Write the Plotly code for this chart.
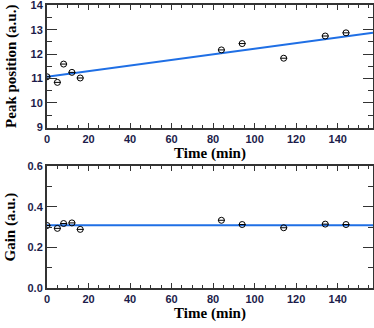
import plotly.graph_objects as go

# measurement times (min)
time_min = [0, 5, 8, 12, 16, 84, 94, 114, 134, 144]
peak_pos = [11.07, 10.84, 11.59, 11.25, 11.02, 12.17, 12.43, 11.83, 12.74, 12.87]
gain = [0.308, 0.294, 0.318, 0.321, 0.289, 0.334, 0.313, 0.297, 0.315, 0.313]

# fitted lines (end points)
fit_x = [0, 157]
peak_fit = [11.07, 12.87]
gain_fit = [0.31, 0.31]

# tick labels
peak_ticks = [9, 10, 11, 12, 13, 14]
gain_ticks = [0.0, 0.2, 0.4, 0.6]

blue = '#1f6fe5'
tick_font = dict(family='Liberation Sans', size=11, color='#1c1c4a', weight='bold')
title_font = dict(family='Liberation Serif', size=15, color='black', weight='bold')

fig = go.Figure()

for ax, y, fy in [('', peak_pos, peak_fit), ('2', gain, gain_fit)]:
    fig.add_trace(go.Scatter(x=fit_x, y=fy, mode='lines', xaxis='x' + ax, yaxis='y' + ax,
                             line=dict(color=blue, width=2), showlegend=False))
    fig.add_trace(go.Scatter(x=time_min, y=y, mode='markers', xaxis='x' + ax, yaxis='y' + ax,
                             marker=dict(symbol='circle-open', size=6, color='black',
                                         line=dict(width=1)), showlegend=False))
    fig.add_trace(go.Scatter(x=time_min, y=y, mode='markers', xaxis='x' + ax, yaxis='y' + ax,
                             marker=dict(symbol='line-ew-open', size=5, color='black',
                                         line=dict(width=1)), showlegend=False))

# title sits a little right of centre in the original
xtitle = '\u00a0' * 7 + 'Time (min)'

xcommon = dict(range=[0, 157], dtick=20, ticks='inside', ticklen=5, tickcolor='#333',
               minor=dict(dtick=5, ticklen=3, ticks='inside', tickcolor='#333'),
               showline=True, linecolor='#333', linewidth=2, mirror='ticks',
               showgrid=False, zeroline=False, tickfont=tick_font, automargin=False,
               ticklabeloverflow='allow',
               title=dict(text=xtitle, font=title_font, standoff=1))
ycommon = dict(ticks='inside', ticklen=10, tickcolor='#333', automargin=False,
               showline=True, linecolor='#333', linewidth=2, mirror='ticks',
               showgrid=False, zeroline=False, tickfont=tick_font, tickmode='array',
               ticklabeloverflow='allow')

fig.update_layout(
    width=374, height=328,
    margin=dict(l=47, r=1, t=5, b=40),
    paper_bgcolor='white', plot_bgcolor='white',
    xaxis=dict(xcommon, anchor='y'),
    yaxis=dict(ycommon, domain=[0.567, 1], range=[8.99, 14.01], tickvals=peak_ticks,
               minor=dict(dtick=0.5, ticklen=5, ticks='inside', tickcolor='#333'),
               title=dict(text='Peak position (a.u.)', font=title_font, standoff=10)),
    xaxis2=dict(xcommon, anchor='y2'),
    yaxis2=dict(ycommon, domain=[0, 0.43], range=[-0.001, 0.601], tickvals=gain_ticks,
                tickformat='.1f',
                minor=dict(dtick=0.1, ticklen=5, ticks='inside', tickcolor='#333'),
                title=dict(text='Gain (a.u.)', font=title_font, standoff=8)),
)

fig.write_html('out.html', config={'displayModeBar': False},
               post_script="document.body.style.margin='0';")
